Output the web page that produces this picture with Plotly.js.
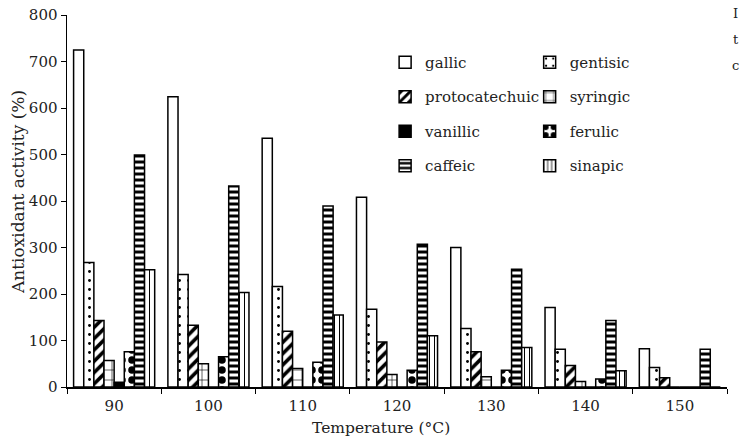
<!DOCTYPE html>
<html>
<head>
<meta charset="utf-8">
<script src="https://cdn.plot.ly/plotly-3.0.1.min.js"></script>
<style>body{margin:0;padding:0;background:#fff}#chart{width:741px;height:436px}</style>
</head>
<body>
<div id="chart"></div>
<script>
const temperatures = ['90', '100', '110', '120', '130', '140', '150'];
const gallic = [725, 624, 535, 408, 300, 171, 82];
const gentisic = [268, 242, 216, 167, 126, 81, 42];
const protocatechuic = [143, 133, 120, 97, 76, 46, 20];
const syringic = [57, 50, 40, 27, 22, 12, 0];
const vanillic = [10, 0, 0, 0, 0, 0, 0];
const ferulic = [76, 65, 53, 36, 36, 17, 0];
const caffeic = [499, 432, 389, 307, 253, 143, 81];
const sinapic = [252, 203, 155, 110, 85, 35, 0];

const seriesNames = ['gallic', 'gentisic', 'protocatechuic', 'syringic', 'vanillic', 'ferulic', 'caffeic', 'sinapic'];
const seriesValues = [gallic, gentisic, protocatechuic, syringic, vanillic, ferulic, caffeic, sinapic];

const styles = {
  gallic: {color: '#ffffff', pattern: {shape: ''}, legend: 'legend'},
  gentisic: {color: '#ffffff', pattern: {shape: '.', size: 9, solidity: 0.08, fgcolor: '#000', bgcolor: '#fff'}, legend: 'legend2'},
  protocatechuic: {color: '#ffffff', pattern: {shape: '/', size: 8, solidity: 0.45, fgcolor: '#000', bgcolor: '#fff'}, legend: 'legend'},
  syringic: {color: '#ffffff', pattern: {shape: '+', size: 10, solidity: 0.12, fgcolor: '#000', bgcolor: '#fff'}, legend: 'legend2'},
  vanillic: {color: '#000000', pattern: {shape: ''}, legend: 'legend'},
  ferulic: {color: '#ffffff', pattern: {shape: '.', size: 10, solidity: 0.45, fgcolor: '#000', bgcolor: '#fff'}, legend: 'legend2'},
  caffeic: {color: '#ffffff', pattern: {shape: '-', size: 6, solidity: 0.5, fgcolor: '#000', bgcolor: '#fff'}, legend: 'legend'},
  sinapic: {color: '#ffffff', pattern: {shape: '|', size: 5, solidity: 0.2, fgcolor: '#000', bgcolor: '#fff'}, legend: 'legend2'}
};

const traces = seriesNames.map((name, i) => ({
  type: 'bar',
  name: name,
  x: temperatures,
  y: seriesValues[i],
  legend: styles[name].legend,
  legendgroup: name,
  marker: {
    color: styles[name].color,
    line: {color: '#000000', width: 1.5},
    pattern: styles[name].pattern
  },
  hoverinfo: 'x+y+name'
}));

const fontFamily = 'DejaVu Serif';

const legendCommon = {
  font: {family: fontFamily, size: 15, color: '#222'},
  bgcolor: 'rgba(0,0,0,0)',
  borderwidth: 0,
  traceorder: 'grouped',
  tracegroupgap: 12,
  yanchor: 'top',
  xanchor: 'left',
  itemwidth: 30
};

const layout = {
  width: 741,
  height: 436,
  margin: {l: 67, r: 14, t: 15, b: 49},
  paper_bgcolor: '#ffffff',
  plot_bgcolor: '#ffffff',
  font: {family: fontFamily, size: 14, color: '#222'},
  barmode: 'group',
  bargap: 0.14,
  bargroupgap: 0,
  showlegend: true,
  legend: Object.assign({}, legendCommon, {x: 0.482, y: 0.917}),
  legend2: Object.assign({}, legendCommon, {x: 0.701, y: 0.917}),
  xaxis: {
    type: 'category',
    showline: true,
    linecolor: '#000',
    linewidth: 1.5,
    ticks: 'outside',
    tickson: 'boundaries',
    ticklen: 5,
    tickcolor: '#000',
    ticklabelstandoff: 4,
    tickfont: {family: fontFamily, size: 15, color: '#222'},
    showgrid: false,
    zeroline: false
  },
  yaxis: {
    range: [0, 800],
    dtick: 100,
    showline: true,
    linecolor: '#000',
    linewidth: 1.5,
    ticks: 'outside',
    ticklen: 5,
    tickcolor: '#000',
    tickfont: {family: fontFamily, size: 15, color: '#222'},
    showgrid: false,
    zeroline: false
  },
  annotations: [
    {text: 'Temperature (°C)', xref: 'paper', yref: 'paper', x: 0.476, y: -0.110, xanchor: 'center', yanchor: 'middle', showarrow: false, font: {family: fontFamily, size: 15.5, color: '#222'}},
    {text: 'Antioxidant activity (%)', textangle: -90, xref: 'paper', yref: 'paper', x: -0.0742, y: 0.524, xanchor: 'center', yanchor: 'middle', showarrow: false, font: {family: fontFamily, size: 17, color: '#222'}},
    {text: 'I', xref: 'paper', yref: 'paper', x: 1.0, y: 1.005, xanchor: 'left', yanchor: 'middle', showarrow: false, xshift: 4, font: {family: fontFamily, size: 13, color: '#222'}},
    {text: 't', xref: 'paper', yref: 'paper', x: 1.0, y: 0.933, xanchor: 'left', yanchor: 'middle', showarrow: false, xshift: 4, font: {family: fontFamily, size: 13, color: '#222'}},
    {text: 'c', xref: 'paper', yref: 'paper', x: 1.0, y: 0.863, xanchor: 'left', yanchor: 'middle', showarrow: false, xshift: 3, font: {family: fontFamily, size: 13, color: '#222'}}
  ]
};

Plotly.newPlot('chart', traces, layout, {displayModeBar: false, staticPlot: true});
</script>
</body>
</html>
